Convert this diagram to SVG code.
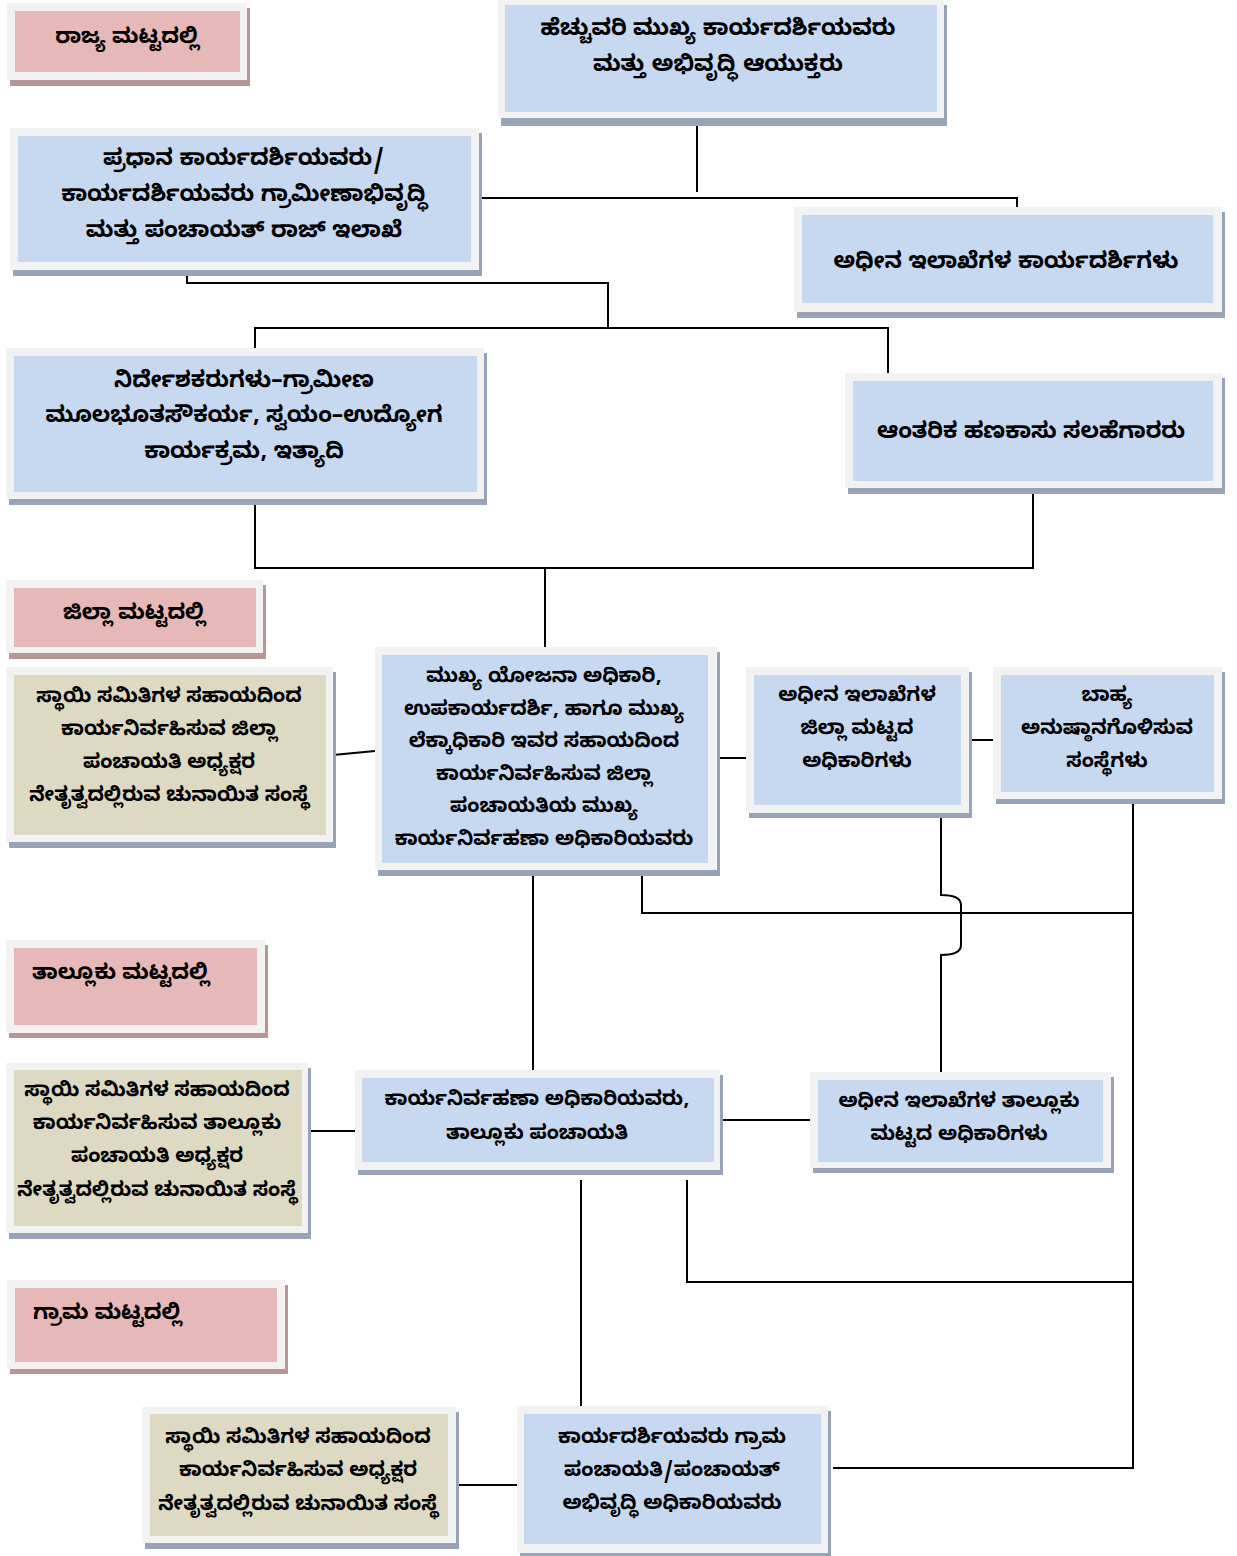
<svg xmlns="http://www.w3.org/2000/svg" width="1237" height="1556" viewBox="0 0 1237 1556">
<style>
.bg{fill:#ffffff}
.frame{fill:#f2f2f2}
.shb{fill:#98a3b8}
.shp{fill:#b89696}
.blue{fill:#c6d9f1}
.pink{fill:#e6b8b7}
.tan{fill:#ddd9c3}
.t{font-family:"Noto Sans Kannada","Noto Sans","DejaVu Sans",sans-serif;font-weight:bold;font-size:20px;text-anchor:middle;fill:#000}
.big{font-size:22.6px}
.lvl{font-size:21.6px}
.tl{text-anchor:start}
.c{stroke:#000;stroke-width:2;fill:none}
</style>
<rect class="bg" x="0" y="0" width="1237" height="1556"/>

<g id="connectors">
<path class="c" d="M697,125 V192"/>
<path class="c" d="M480,198 H1017 V215"/>
<path class="c" d="M187,265 V283 H608 V328"/>
<path class="c" d="M255,356 V328 H888 V377"/>
<path class="c" d="M255,505 V568 H1033 V488"/>
<path class="c" d="M545,568 V647"/>
<path class="c" d="M333,755 L375,751"/>
<path class="c" d="M717,758 H746"/>
<path class="c" d="M969,740 H993"/>
<path class="c" d="M533,876 V1075"/>
<path class="c" d="M642,876 V913 H1133"/>
<path class="c" d="M1133,800 V1468 H833"/>
<path class="c" d="M941,815 V895 Q961,895 961,905 V945 Q961,955 941,955 V1078"/>
<path class="c" d="M308,1131 H355"/>
<path class="c" d="M720,1120 H810"/>
<path class="c" d="M581,1180 V1407"/>
<path class="c" d="M687,1180 V1282 H1133"/>
<path class="c" d="M458,1485 H519"/>
</g>

<g id="n-state-level">
<rect class="shp" x="10" y="8" width="240" height="78"/>
<rect class="frame" x="7" y="3" width="240" height="77"/>
<rect class="pink" x="15" y="11" width="225" height="61"/>
<text class="t lvl" x="127" y="43">ರಾಜ್ಯ ಮಟ್ಟದಲ್ಲಿ</text>
</g>

<g id="n-acs">
<rect class="shb" x="501" y="5" width="446" height="121"/>
<rect class="frame" x="498" y="0" width="446" height="118"/>
<rect class="blue" x="505" y="5" width="432" height="107"/>
<text class="t big" x="718" y="35">ಹೆಚ್ಚುವರಿ ಮುಖ್ಯ ಕಾರ್ಯದರ್ಶಿಯವರು</text>
<text class="t big" x="718" y="71">ಮತ್ತು ಅಭಿವೃದ್ಧಿ ಆಯುಕ್ತರು</text>
</g>

<g id="n-principal-secretary">
<rect class="shb" x="13" y="133" width="469" height="143"/>
<rect class="frame" x="10" y="128" width="469" height="142"/>
<rect class="blue" x="18" y="136" width="453" height="126"/>
<text class="t big" x="244" y="165">ಪ್ರಧಾನ ಕಾರ್ಯದರ್ಶಿಯವರು/</text>
<text class="t big" x="244" y="201">ಕಾರ್ಯದರ್ಶಿಯವರು ಗ್ರಾಮೀಣಾಭಿವೃದ್ಧಿ</text>
<text class="t big" x="244" y="237">ಮತ್ತು ಪಂಚಾಯತ್ ರಾಜ್ ಇಲಾಖೆ</text>
</g>

<g id="n-dept-secretaries">
<rect class="shb" x="797" y="212" width="428" height="106"/>
<rect class="frame" x="794" y="207" width="428" height="105"/>
<rect class="blue" x="802" y="215" width="411" height="88"/>
<text class="t big" x="1006" y="268">ಅಧೀನ ಇಲಾಖೆಗಳ ಕಾರ್ಯದರ್ಶಿಗಳು</text>
</g>

<g id="n-directors">
<rect class="shb" x="9" y="353" width="478" height="152"/>
<rect class="frame" x="6" y="348" width="478" height="151"/>
<rect class="blue" x="14" y="356" width="463" height="136"/>
<text class="t big" x="244" y="387">ನಿರ್ದೇಶಕರುಗಳು–ಗ್ರಾಮೀಣ</text>
<text class="t big" x="244" y="422">ಮೂಲಭೂತಸೌಕರ್ಯ, ಸ್ವಯಂ–ಉದ್ಯೋಗ</text>
<text class="t big" x="244" y="458">ಕಾರ್ಯಕ್ರಮ, ಇತ್ಯಾದಿ</text>
</g>

<g id="n-internal-finance">
<rect class="shb" x="848" y="378" width="377" height="116"/>
<rect class="frame" x="845" y="373" width="377" height="115"/>
<rect class="blue" x="853" y="381" width="360" height="100"/>
<text class="t big" x="1031" y="438">ಆಂತರಿಕ ಹಣಕಾಸು ಸಲಹೆಗಾರರು</text>
</g>

<g id="n-district-level">
<rect class="shp" x="9" y="585" width="257" height="74"/>
<rect class="frame" x="6" y="580" width="257" height="73"/>
<rect class="pink" x="14" y="588" width="242" height="59"/>
<text class="t lvl" x="134" y="619">ಜಿಲ್ಲಾ ಮಟ್ಟದಲ್ಲಿ</text>
</g>

<g id="n-zp-body">
<rect class="shb" x="9" y="672" width="327" height="176"/>
<rect class="frame" x="6" y="667" width="327" height="175"/>
<rect class="tan" x="14" y="675" width="312" height="160"/>
<text class="t" x="169" y="702">ಸ್ಥಾಯಿ ಸಮಿತಿಗಳ ಸಹಾಯದಿಂದ</text>
<text class="t" x="169" y="735">ಕಾರ್ಯನಿರ್ವಹಿಸುವ ಜಿಲ್ಲಾ</text>
<text class="t" x="169" y="768">ಪಂಚಾಯತಿ ಅಧ್ಯಕ್ಷರ</text>
<text class="t" x="169" y="801">ನೇತೃತ್ವದಲ್ಲಿರುವ ಚುನಾಯಿತ ಸಂಸ್ಥೆ</text>
</g>

<g id="n-zp-ceo">
<rect class="shb" x="378" y="652" width="342" height="224"/>
<rect class="frame" x="375" y="647" width="342" height="223"/>
<rect class="blue" x="382" y="655" width="326" height="208"/>
<text class="t" x="544" y="682">ಮುಖ್ಯ ಯೋಜನಾ ಅಧಿಕಾರಿ,</text>
<text class="t" x="544" y="715">ಉಪಕಾರ್ಯದರ್ಶಿ, ಹಾಗೂ ಮುಖ್ಯ</text>
<text class="t" x="544" y="747">ಲೆಕ್ಕಾಧಿಕಾರಿ ಇವರ ಸಹಾಯದಿಂದ</text>
<text class="t" x="544" y="780">ಕಾರ್ಯನಿರ್ವಹಿಸುವ ಜಿಲ್ಲಾ</text>
<text class="t" x="544" y="812">ಪಂಚಾಯತಿಯ ಮುಖ್ಯ</text>
<text class="t" x="544" y="845">ಕಾರ್ಯನಿರ್ವಹಣಾ ಅಧಿಕಾರಿಯವರು</text>
</g>

<g id="n-district-officers">
<rect class="shb" x="749" y="672" width="223" height="146"/>
<rect class="frame" x="746" y="667" width="223" height="146"/>
<rect class="blue" x="754" y="675" width="207" height="130"/>
<text class="t" x="857" y="701">ಅಧೀನ ಇಲಾಖೆಗಳ</text>
<text class="t" x="857" y="734">ಜಿಲ್ಲಾ ಮಟ್ಟದ</text>
<text class="t" x="857" y="767">ಅಧಿಕಾರಿಗಳು</text>
</g>

<g id="n-external-agencies">
<rect class="shb" x="996" y="672" width="229" height="132"/>
<rect class="frame" x="993" y="667" width="229" height="132"/>
<rect class="blue" x="1001" y="675" width="213" height="117"/>
<text class="t" x="1107" y="701">ಬಾಹ್ಯ</text>
<text class="t" x="1107" y="734">ಅನುಷ್ಠಾನಗೊಳಿಸುವ</text>
<text class="t" x="1107" y="767">ಸಂಸ್ಥೆಗಳು</text>
</g>

<g id="n-taluk-level">
<rect class="shp" x="9" y="945" width="259" height="93"/>
<rect class="frame" x="6" y="940" width="259" height="93"/>
<rect class="pink" x="14" y="948" width="243" height="77"/>
<text class="t lvl tl" x="32" y="979">ತಾಲ್ಲೂಕು ಮಟ್ಟದಲ್ಲಿ</text>
</g>

<g id="n-tp-body">
<rect class="shb" x="9" y="1068" width="302" height="171"/>
<rect class="frame" x="6" y="1063" width="302" height="170"/>
<rect class="tan" x="14" y="1070" width="288" height="156"/>
<text class="t" x="157" y="1096">ಸ್ಥಾಯಿ ಸಮಿತಿಗಳ ಸಹಾಯದಿಂದ</text>
<text class="t" x="157" y="1129">ಕಾರ್ಯನಿರ್ವಹಿಸುವ ತಾಲ್ಲೂಕು</text>
<text class="t" x="157" y="1162">ಪಂಚಾಯತಿ ಅಧ್ಯಕ್ಷರ</text>
<text class="t" x="157" y="1196">ನೇತೃತ್ವದಲ್ಲಿರುವ ಚುನಾಯಿತ ಸಂಸ್ಥೆ</text>
</g>

<g id="n-tp-eo">
<rect class="shb" x="358" y="1075" width="365" height="100"/>
<rect class="frame" x="355" y="1070" width="365" height="100"/>
<rect class="blue" x="362" y="1078" width="352" height="84"/>
<text class="t" x="537" y="1105">ಕಾರ್ಯನಿರ್ವಹಣಾ ಅಧಿಕಾರಿಯವರು,</text>
<text class="t" x="537" y="1139">ತಾಲ್ಲೂಕು ಪಂಚಾಯತಿ</text>
</g>

<g id="n-taluk-officers">
<rect class="shb" x="813" y="1077" width="301" height="96"/>
<rect class="frame" x="810" y="1072" width="301" height="96"/>
<rect class="blue" x="818" y="1080" width="285" height="82"/>
<text class="t" x="959" y="1107">ಅಧೀನ ಇಲಾಖೆಗಳ ತಾಲ್ಲೂಕು</text>
<text class="t" x="959" y="1140">ಮಟ್ಟದ ಅಧಿಕಾರಿಗಳು</text>
</g>

<g id="n-village-level">
<rect class="shp" x="10" y="1285" width="278" height="89"/>
<rect class="frame" x="7" y="1280" width="278" height="89"/>
<rect class="pink" x="15" y="1288" width="262" height="74"/>
<text class="t lvl tl" x="33" y="1319">ಗ್ರಾಮ ಮಟ್ಟದಲ್ಲಿ</text>
</g>

<g id="n-gp-body">
<rect class="shb" x="145" y="1412" width="314" height="137"/>
<rect class="frame" x="142" y="1407" width="314" height="136"/>
<rect class="tan" x="150" y="1414" width="298" height="122"/>
<text class="t" x="298" y="1443">ಸ್ಥಾಯಿ ಸಮಿತಿಗಳ ಸಹಾಯದಿಂದ</text>
<text class="t" x="298" y="1476">ಕಾರ್ಯನಿರ್ವಹಿಸುವ ಅಧ್ಯಕ್ಷರ</text>
<text class="t" x="298" y="1510">ನೇತೃತ್ವದಲ್ಲಿರುವ ಚುನಾಯಿತ ಸಂಸ್ಥೆ</text>
</g>

<g id="n-gp-secretary">
<rect class="shb" x="520" y="1411" width="311" height="145"/>
<rect class="frame" x="517" y="1406" width="311" height="147"/>
<rect class="blue" x="524" y="1414" width="297" height="130"/>
<text class="t" x="672" y="1443">ಕಾರ್ಯದರ್ಶಿಯವರು ಗ್ರಾಮ</text>
<text class="t" x="672" y="1476">ಪಂಚಾಯತಿ/ಪಂಚಾಯತ್</text>
<text class="t" x="672" y="1509">ಅಭಿವೃದ್ಧಿ ಅಧಿಕಾರಿಯವರು</text>
</g>
</svg>
